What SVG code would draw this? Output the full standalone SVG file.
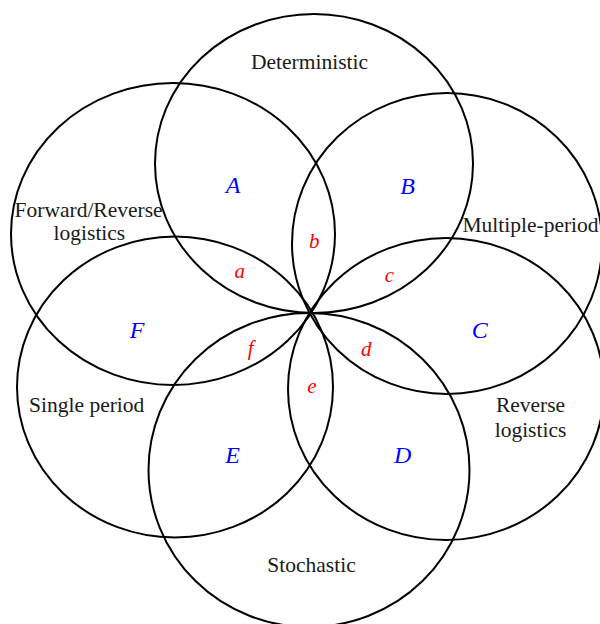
<svg xmlns="http://www.w3.org/2000/svg" width="600" height="624" viewBox="0 0 600 624">
<style>
.c{fill:none;stroke:#000;stroke-width:2}
.t{font-family:"Liberation Serif","Times New Roman",serif;font-size:21.5px;fill:#1a1a1a;text-anchor:middle}
.u{font-family:"Liberation Serif","Times New Roman",serif;font-style:italic;font-size:24px;fill:#0000ff;text-anchor:middle}
.l{font-family:"Liberation Serif","Times New Roman",serif;font-style:italic;font-size:21px;fill:#ff0000;text-anchor:middle}
</style>
<rect width="600" height="624" fill="#fff"/>
<g id="deterministic"><ellipse class="c" cx="314" cy="163.5" rx="159" ry="149.5"/><text class="t" x="309.5" y="69">Deterministic</text></g>
<g id="multiple-period"><ellipse class="c" cx="447" cy="243.5" rx="155" ry="150.5"/><text class="t" x="530.5" y="232">Multiple-period</text></g>
<g id="reverse-logistics"><ellipse class="c" cx="446" cy="389" rx="158" ry="151"/><text class="t" x="530.5" y="412">Reverse</text><text class="t" x="530.5" y="437">logistics</text></g>
<g id="stochastic"><ellipse class="c" cx="309" cy="470" rx="160.5" ry="157"/><text class="t" x="311.5" y="572">Stochastic</text></g>
<g id="single-period"><ellipse class="c" cx="175" cy="387" rx="158" ry="150.5"/><text class="t" x="86.7" y="412">Single period</text></g>
<g id="forward-reverse"><ellipse class="c" cx="173" cy="234" rx="162" ry="151"/><text class="t" x="88.6" y="217">Forward/Reverse</text><text class="t" x="89.4" y="240">logistics</text></g>
<g id="regions">
<text class="u" x="233" y="193">A</text>
<text class="u" x="407.5" y="194">B</text>
<text class="u" x="479.7" y="338">C</text>
<text class="u" x="402.7" y="463">D</text>
<text class="u" x="232.7" y="463">E</text>
<text class="u" x="137" y="338">F</text>
<text class="l" x="239.7" y="278">a</text>
<text class="l" x="314.3" y="248">b</text>
<text class="l" x="389.4" y="281.5">c</text>
<text class="l" x="366.3" y="356">d</text>
<text class="l" x="312" y="392.5">e</text>
<text class="l" x="250.7" y="355">f</text>
</g>
</svg>
